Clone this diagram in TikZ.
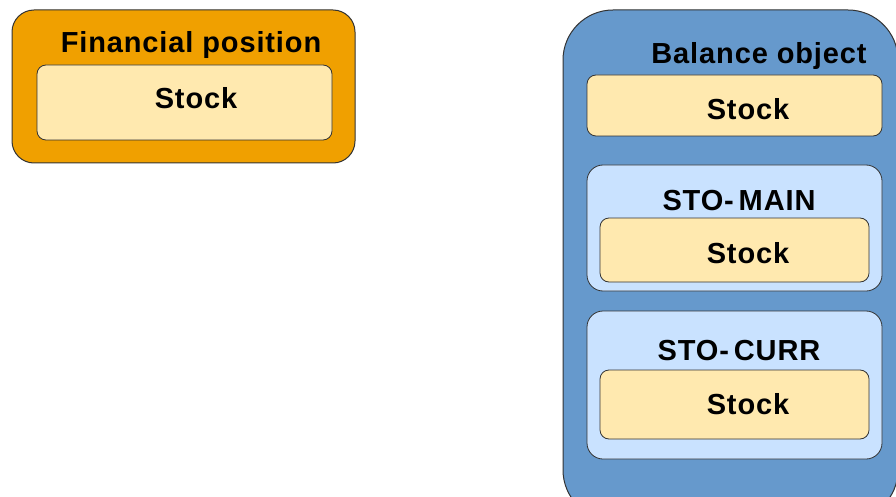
\documentclass[tikz,border=0pt]{standalone}
\usepackage{fontspec}
\setmainfont{Liberation Sans}[LetterSpace=3]
\begin{document}
\begin{tikzpicture}[x=1pt,y=-1pt,
  lbl/.style={font=\fontsize{29}{31}\selectfont\bfseries, inner sep=0pt},
  outerbox/.style={draw=black!80, line width=1pt},
  stockbox/.style={draw=black!80, line width=0.8pt, fill=stockc, rounded corners=9pt},
  groupbox/.style={draw=black!80, line width=0.8pt, fill=groupc, rounded corners=16pt}]
\definecolor{orangec}{HTML}{F0A000}
\definecolor{stockc}{HTML}{FFE9AF}
\definecolor{bluec}{HTML}{6699CC}
\definecolor{groupc}{HTML}{C9E2FF}
\useasboundingbox (0,0) rectangle (896,497);
\begin{scope}
\clip (0,0) rectangle (896,497);
% left
\draw[outerbox, fill=orangec, rounded corners=22pt] (12,10) rectangle (355,163);
\node[lbl] (fp) at (191,45) {Financial position};
\draw[stockbox] (37,65) rectangle (332,140);
\node[lbl] (fps) at (196,98) {Stock};
% right
\draw[outerbox, fill=bluec, rounded corners=50pt] (563,10) rectangle (898,520);
\node[lbl] (bo) at (759,56) {Balance object};
\draw[stockbox] (587,75) rectangle (882,136);
\node[lbl] (bos) at (748,109) {Stock};
\draw[groupbox] (587,165) rectangle (882,291);
\node[lbl] (sm) at (739,201) {STO-\,MAIN};
\draw[stockbox] (600,218) rectangle (869,282);
\node[lbl] (sms) at (748,253) {Stock};
\draw[groupbox] (587,311) rectangle (882,459);
\node[lbl] (sc) at (739,351) {STO-\,CURR};
\draw[stockbox] (600,370) rectangle (869,439);
\node[lbl] (scs) at (748,404) {Stock};
\end{scope}
\end{tikzpicture}
\end{document}
